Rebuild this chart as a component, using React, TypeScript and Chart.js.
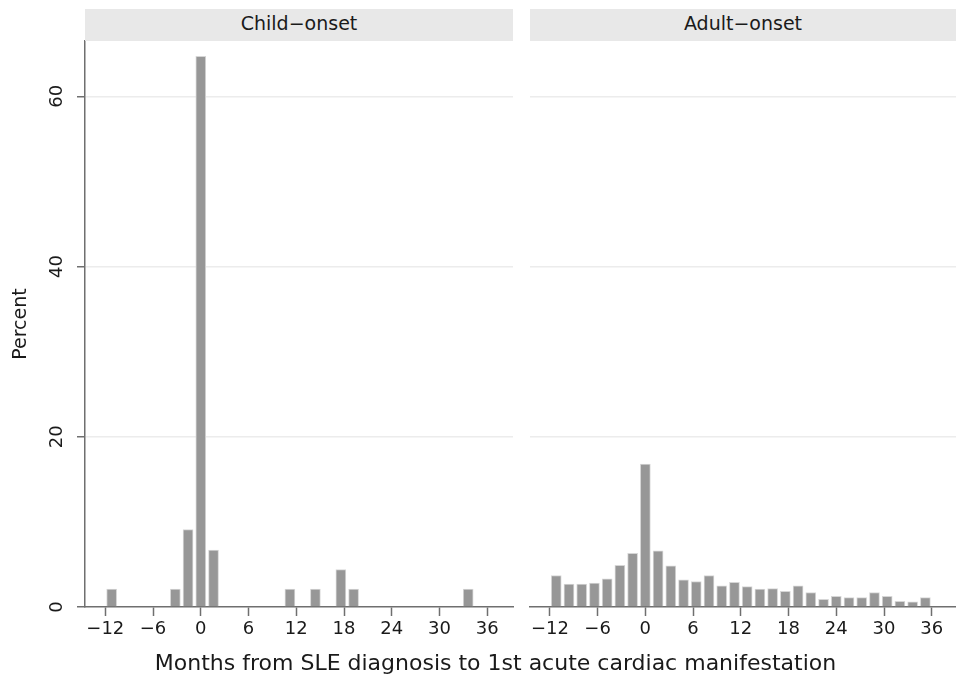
import React, { useEffect, useRef } from "react";
import { Chart, registerables } from "chart.js";

Chart.register(...registerables);

// ---- data ----
const panelTitles = ["Child\u2212onset", "Adult\u2212onset"];
const xTitle = "Months from SLE diagnosis to 1st acute cardiac manifestation";
const yTitle = "Percent";
const xTickValues = [-12, -6, 0, 6, 12, 18, 24, 30, 36];
const yTickValues = [0, 20, 40, 60];

const childMonths = [-11.2, -3.2, -1.6, 0, 1.6, 11.2, 14.4, 17.6, 19.2, 33.6];
const childPercent = [2.1, 2.1, 9.1, 64.7, 6.7, 2.1, 2.1, 4.4, 2.1, 2.1];

const adultMonths = [
  -11.2, -9.6, -8, -6.4, -4.8, -3.2, -1.6, 0, 1.6, 3.2, 4.8, 6.4, 8, 9.6, 11.2,
  12.8, 14.4, 16, 17.6, 19.2, 20.8, 22.4, 24, 25.6, 27.2, 28.8, 30.4, 32, 33.6, 35.2,
];
const adultPercent = [
  3.7, 2.7, 2.7, 2.8, 3.3, 4.9, 6.3, 16.8, 6.6, 4.85, 3.2, 3.0, 3.7, 2.5, 2.9,
  2.4, 2.1, 2.15, 1.85, 2.5, 1.7, 0.9, 1.25, 1.1, 1.1, 1.7, 1.25, 0.67, 0.6, 1.1,
];

const FONT = "'DejaVu Sans', 'Liberation Sans', Arial, sans-serif";
const BAR_FILL = "#979797";
const BAR_EDGE = "#d6d6d6";
const AXIS = "#6f6f6f";
const GRID = "#ececec";
const TEXT = "#1a1a1a";

const fmtTick = (v: number) => (v < 0 ? "\u2212" + Math.abs(v) : String(v));

function makeConfig(months: number[], pct: number[], isLeft: boolean): any {
  return {
    type: "bar",
    data: {
      datasets: [
        {
          data: months.map((m, i) => ({ x: m, y: pct[i] })),
          backgroundColor: BAR_FILL,
          borderColor: BAR_EDGE,
          borderWidth: 1,
          borderSkipped: "start",
          barThickness: 10,
        },
      ],
    },
    options: {
      animation: false,
      responsive: false,
      maintainAspectRatio: false,
      events: [],
      layout: {
        padding: isLeft
          ? { left: 0, top: 41, right: 7, bottom: 0 }
          : { left: 10, top: 41, right: 0, bottom: 0 },
      },
      plugins: { legend: { display: false }, tooltip: { enabled: false } },
      scales: {
        x: {
          type: "linear",
          offset: false,
          min: isLeft ? -14.55 : -14.5,
          max: isLeft ? 39.23 : 39.05,
          afterBuildTicks: (s: any) => {
            s.ticks = xTickValues.map((v) => ({ value: v }));
          },
          afterFit: (s: any) => {
            s.height = 77;
          },
          grid: {
            offset: false,
            drawOnChartArea: false,
            drawTicks: true,
            tickLength: 9,
            tickColor: AXIS,
            tickWidth: 1.5,
          },
          border: { display: true, color: AXIS, width: 1.5 },
          ticks: {
            autoSkip: false,
            maxRotation: 0,
            minRotation: 0,
            padding: 3,
            color: TEXT,
            font: { family: FONT, size: 18 },
            callback: (v: any) => fmtTick(Number(v)),
          },
        },
        y: {
          type: "linear",
          min: 0,
          max: 66.5,
          afterBuildTicks: (s: any) => {
            s.ticks = yTickValues.map((v) => ({ value: v }));
          },
          afterFit: (s: any) => {
            s.width = isLeft ? 85 : 0;
          },
          grid: {
            color: (c: any) => (c.tick && c.tick.value === 0 ? "rgba(0,0,0,0)" : GRID),
            lineWidth: 1.5,
            drawTicks: isLeft,
            tickLength: isLeft ? 8 : 0,
            tickColor: AXIS,
            tickWidth: 1.5,
          },
          border: { display: isLeft, color: AXIS, width: 1.5 },
          ticks: {
            display: isLeft,
            minRotation: 90,
            maxRotation: 90,
            crossAlign: "center",
            padding: 8,
            color: TEXT,
            font: { family: FONT, size: 18 },
            callback: (v: any) => String(v),
          },
          title: {
            display: isLeft,
            text: yTitle,
            color: TEXT,
            font: { family: FONT, size: 19 },
            padding: { top: 10, bottom: 0 },
          },
        },
      },
    },
  };
}

function Panel(props: { months: number[]; pct: number[]; isLeft: boolean; left: number; width: number }) {
  const ref = useRef<HTMLCanvasElement | null>(null);
  useEffect(() => {
    if (!ref.current) return;
    const chart = new Chart(ref.current, makeConfig(props.months, props.pct, props.isLeft));
    return () => chart.destroy();
  }, []);
  return (
    <canvas
      ref={ref}
      width={props.width}
      height={684}
      style={{ position: "absolute", left: props.left, top: 0, width: props.width, height: 684 }}
    />
  );
}

const stripStyle = (left: number, width: number): React.CSSProperties => ({
  position: "absolute",
  left,
  top: 9,
  width,
  height: 32,
  background: "#e8e8e8",
  color: TEXT,
  fontFamily: FONT,
  fontSize: 19,
  lineHeight: "28px",
  textAlign: "center",
  whiteSpace: "nowrap",
});

export default function App() {
  return (
    <div
      style={{
        position: "absolute",
        left: 0,
        top: 0,
        width: 956,
        height: 684,
        background: "#ffffff",
        overflow: "hidden",
      }}
    >
      <Panel months={childMonths} pct={childPercent} isLeft={true} left={0} width={520} />
      <Panel months={adultMonths} pct={adultPercent} isLeft={false} left={520} width={436} />
      <div style={stripStyle(85, 428)}>{panelTitles[0]}</div>
      <div style={stripStyle(530, 426)}>{panelTitles[1]}</div>
      <div
        style={{
          position: "absolute",
          left: 0,
          top: 649,
          width: 991,
          height: 28,
          lineHeight: "28px",
          textAlign: "center",
          fontFamily: FONT,
          fontSize: 22,
          color: TEXT,
          whiteSpace: "nowrap",
        }}
      >
        {xTitle}
      </div>
    </div>
  );
}
